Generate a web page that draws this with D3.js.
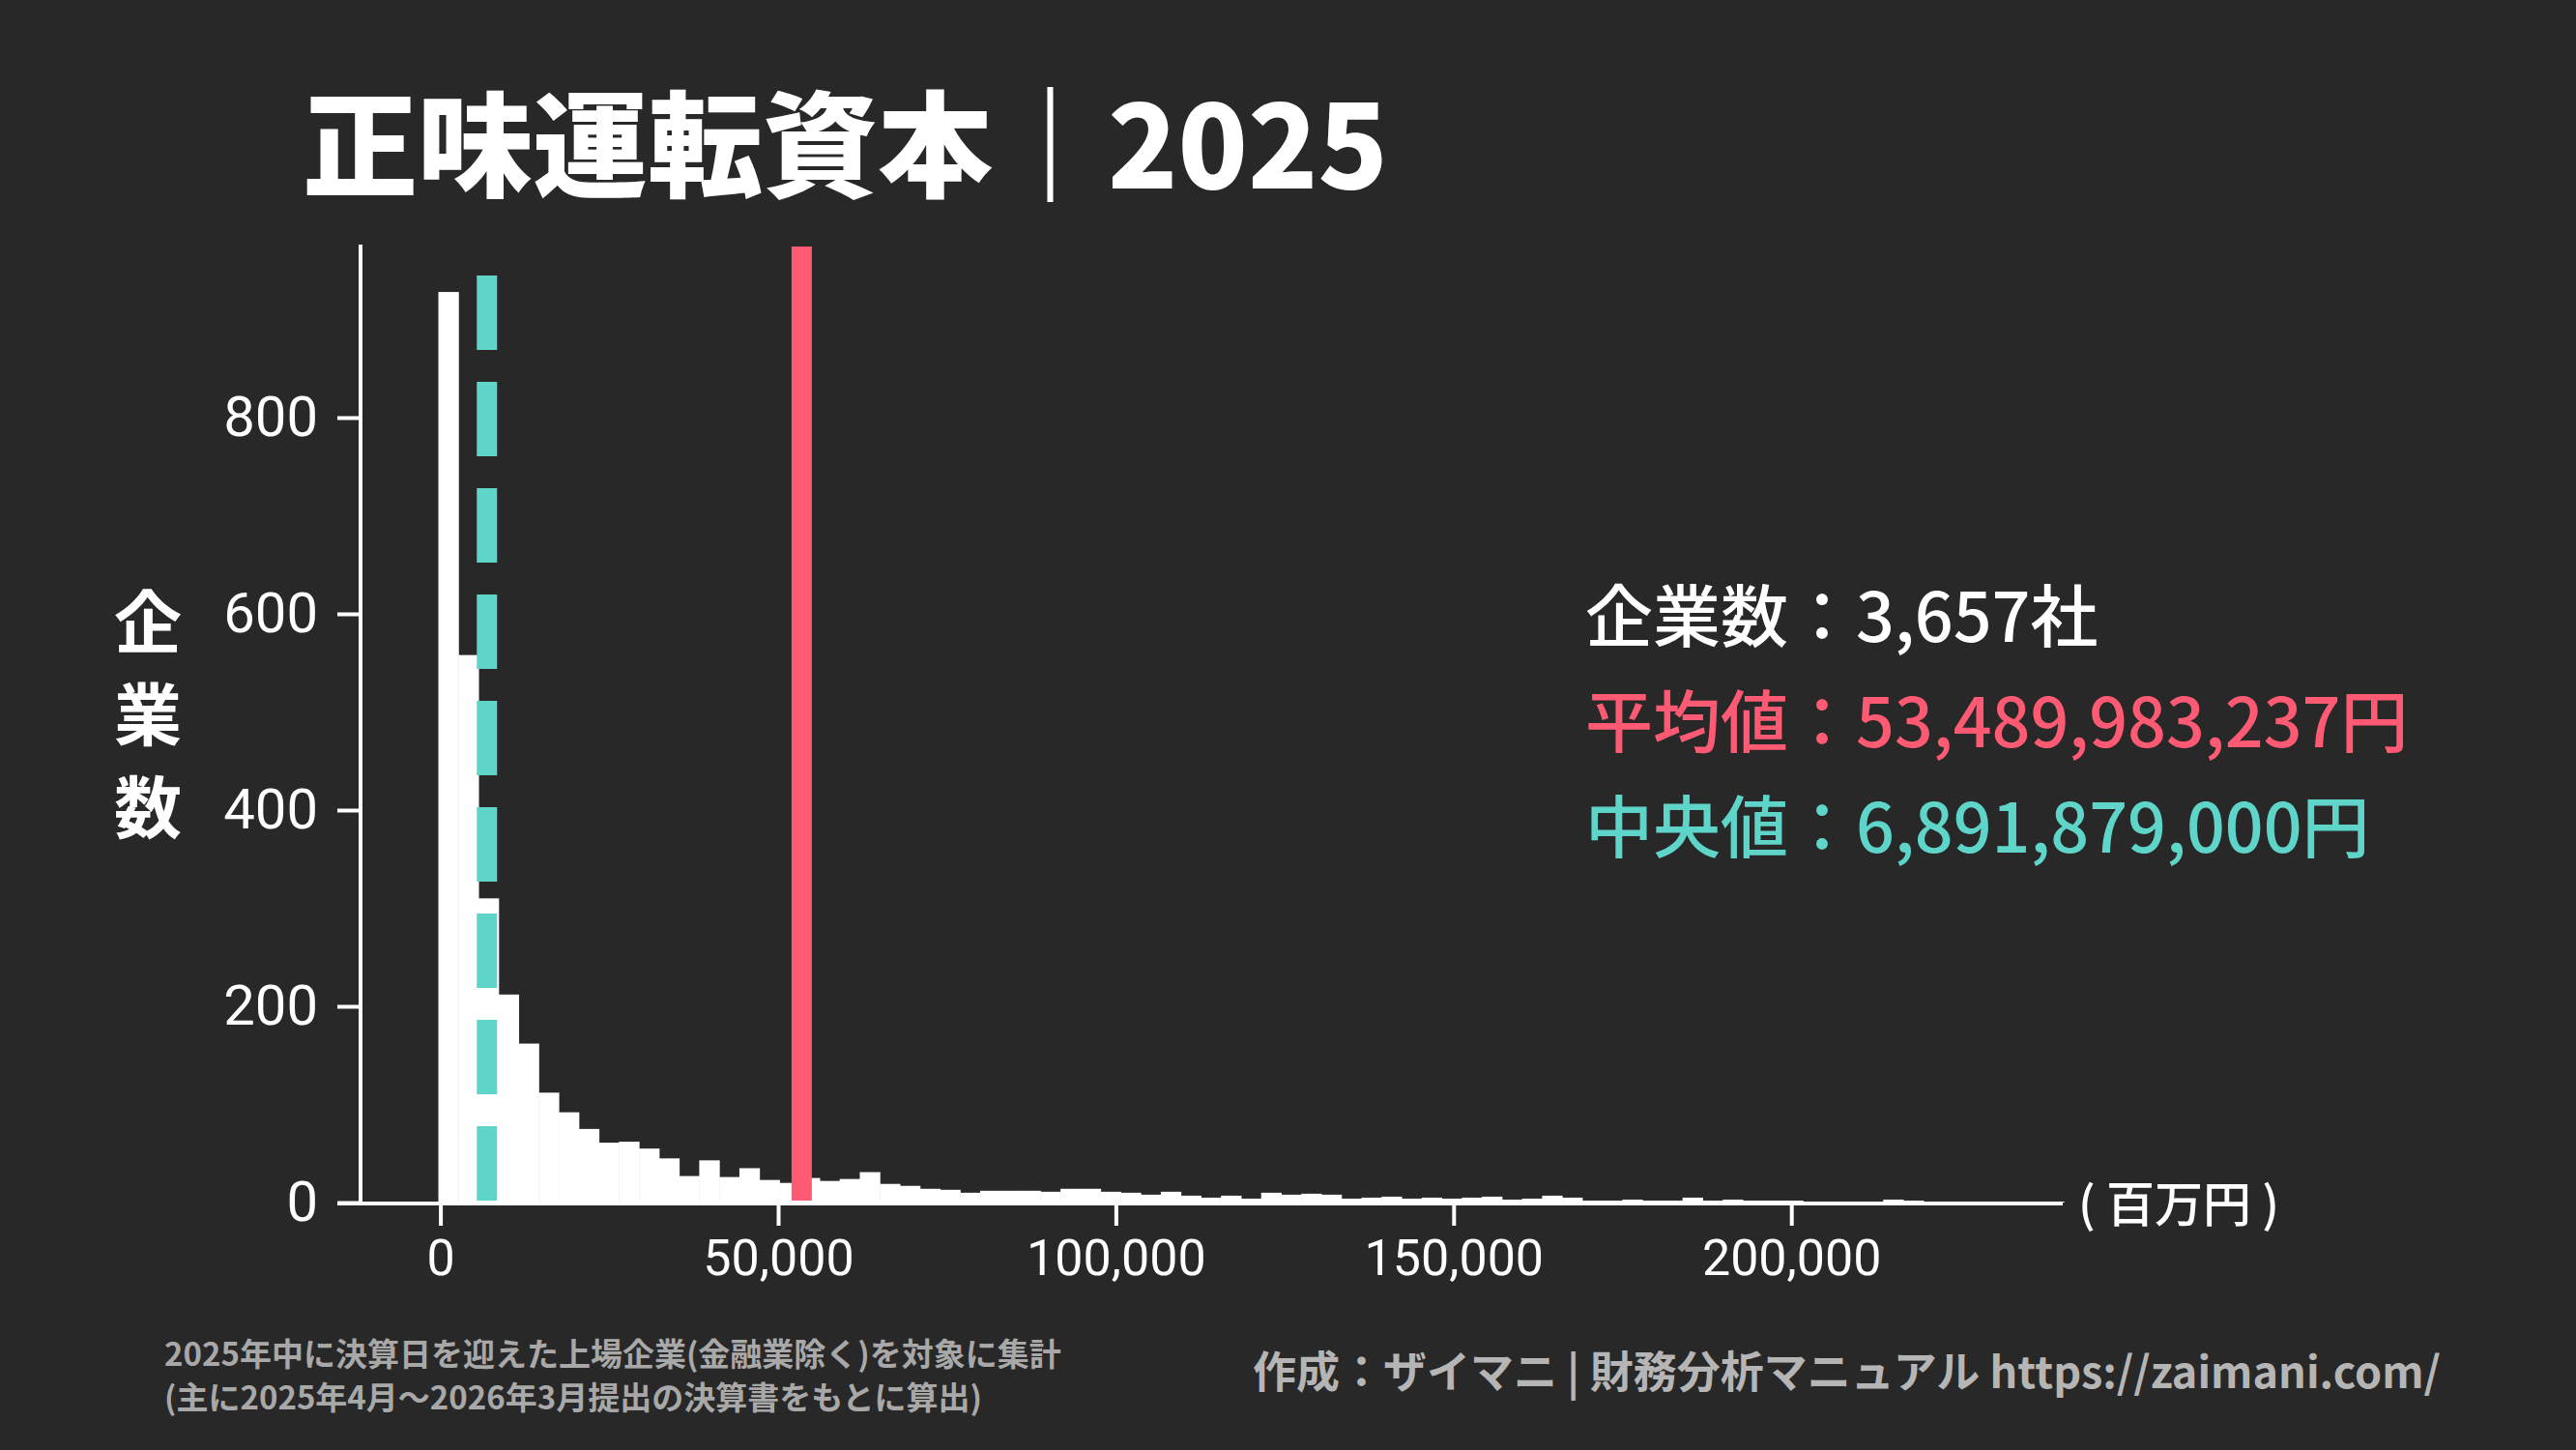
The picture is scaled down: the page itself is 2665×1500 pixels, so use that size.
<!DOCTYPE html>
<html><head><meta charset="utf-8">
<script src="https://cdn.jsdelivr.net/npm/d3@7"></script>
<style>html,body{margin:0;padding:0;background:#282828;}svg{display:block;}</style>
</head><body>
<script>
const binStart = -300;
const binWidth = 2971;
const counts = [928,558,310,212,162,112,92,75,61,62,55,45,27,43,26,35,23,20,25,22,24,31,19,17,14,13,10,12,12,12,11,14,14,11,10,8,11,7,5,7,4,10,8,9,8,4,5,6,4,5,4,5,6,3,4,7,5,2,2,3,2,2,5,2,3,2,2,2,1,1,1,1,3,2,1,1,1,1,1,1,1];
const yTicks = [0,200,400,600,800];
const xTicks = [0,50000,100000,150000,200000];
const meanValue = 53489.983237;
const medianValue = 6891.879;
const statLabels = ["企業数：3,657社","平均値：53,489,983,237円","中央値：6,891,879,000円"];
const titleText = "正味運転資本｜2025";
const notes = ["2025年中に決算日を迎えた上場企業(金融業除く)を対象に集計","(主に2025年4月〜2026年3月提出の決算書をもとに算出)"];
const credit = "作成：ザイマニ | 財務分析マニュアル https://zaimani.com/";

const W=2665,H=1500;
const svg=d3.select("body").append("svg").attr("width",W).attr("height",H);
svg.append("rect").attr("width",W).attr("height",H).attr("fill","#282828");
const x=d3.scaleLinear().domain([0,50000]).range([455.6,805]);
const y=d3.scaleLinear().domain([0,200]).range([1244,1041]);
const bins=counts.map((c,i)=>({x0:binStart+i*binWidth,x1:binStart+(i+1)*binWidth,c}));
const fontJP='"Noto Sans CJK JP","Noto Sans",sans-serif';
const fontNum='Roboto,"Noto Sans",sans-serif';

svg.append("g").selectAll("rect").data(bins).join("rect")
 .attr("x",d=>x(d.x0)).attr("width",d=>x(d.x1)-x(d.x0)+0.5)
 .attr("y",d=>y(d.c)).attr("height",d=>y(0)-y(d.c)).attr("fill","#ffffff");

const ax=svg.append("g").attr("transform","translate(0,1244)")
 .call(d3.axisBottom(x).tickValues(xTicks).tickSize(24).tickPadding(14).tickFormat(d3.format(",")));
ax.select(".domain").remove();
ax.selectAll("line").attr("stroke","#fff").attr("stroke-width",4);
ax.selectAll("text").attr("fill","#fff").attr("font-family",fontNum).attr("font-size",52).attr("dy","0.71em");
svg.append("line").attr("x1",349).attr("x2",2134).attr("y1",1245).attr("y2",1245).attr("stroke","#fff").attr("stroke-width",4);

const ay=svg.append("g").attr("transform","translate(374,0)")
 .call(d3.axisLeft(y).tickValues(yTicks).tickSize(25).tickPadding(20));
ay.select(".domain").remove();
ay.selectAll("line").attr("stroke","#fff").attr("stroke-width",4);
ay.selectAll("text").attr("fill","#fff").attr("font-family",fontNum).attr("font-size",58);
svg.append("line").attr("x1",373).attr("x2",373).attr("y1",253).attr("y2",1246).attr("stroke","#fff").attr("stroke-width",4);

svg.append("line").attr("x1",x(meanValue)).attr("x2",x(meanValue)).attr("y1",255).attr("y2",1242)
 .attr("stroke","#ff5a73").attr("stroke-width",21);
svg.append("line").attr("x1",x(medianValue)).attr("x2",x(medianValue)).attr("y1",285).attr("y2",1242)
 .attr("stroke","#5fd4c8").attr("stroke-width",21).attr("stroke-dasharray","77 33");

svg.append("text").attr("x",313).attr("y",195).text(titleText).attr("fill","#fff")
 .attr("font-family",fontJP).attr("font-weight",900).attr("font-size",119);

["企","業","数"].forEach((ch,i)=>svg.append("text").attr("x",153).attr("y",670+i*96).attr("text-anchor","middle")
 .text(ch).attr("fill","#fff").attr("font-family",fontJP).attr("font-weight",700).attr("font-size",70));

svg.append("text").attr("x",2150).attr("y",1264).text("( 百万円 )").attr("fill","#fff")
 .attr("font-family",fontJP).attr("font-weight",500).attr("font-size",50);

const statColors=["#ffffff","#ff5a73","#5fd4c8"];
statLabels.forEach((t,i)=>svg.append("text").attr("x",1640).attr("y",664+i*109).text(t)
 .attr("fill",statColors[i]).attr("font-family",fontJP).attr("font-weight",500).attr("font-size",70));

notes.forEach((t,i)=>svg.append("text").attr("x",170).attr("y",1413+i*45).text(t)
 .attr("fill","#a8a8a8").attr("font-family",fontJP).attr("font-weight",700).attr("font-size",33));
svg.append("text").attr("x",2525).attr("y",1436).attr("text-anchor","end").text(credit)
 .attr("fill","#b5b5b5").attr("font-family",fontJP).attr("font-weight",700).attr("font-size",45);
</script>
</body></html>
